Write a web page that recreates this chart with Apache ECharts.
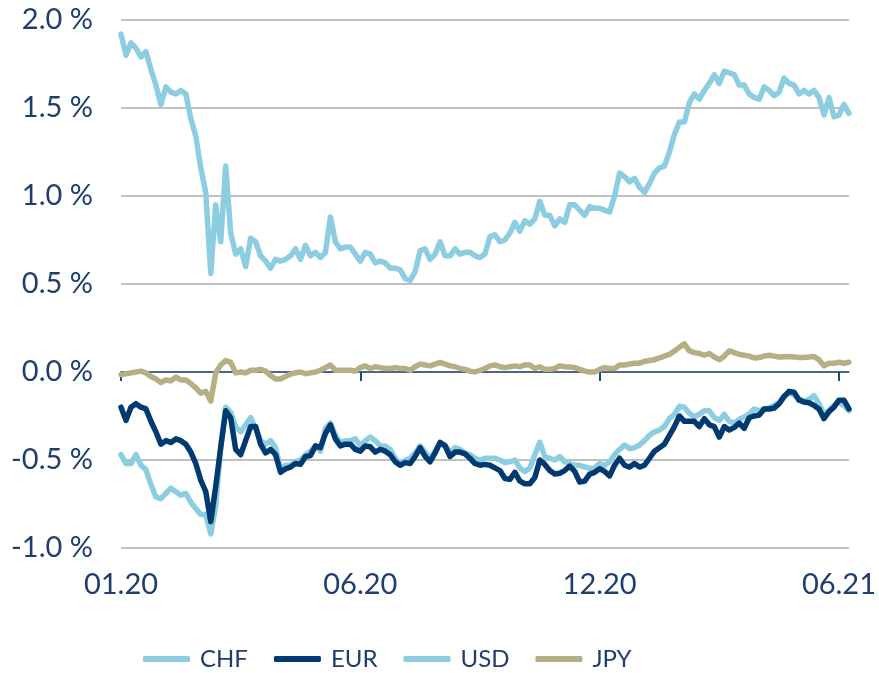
<!DOCTYPE html>
<html>
<head>
<meta charset="utf-8">
<script src="https://cdn.jsdelivr.net/npm/echarts@6/dist/echarts.min.js"></script>
<style>
html,body{margin:0;padding:0;background:#fff;}
#chart{width:879px;height:673px;}
</style>
</head>
<body>
<div id="chart"></div>
<script>
// Tick labels shown on the x axis (every 48th sample)
const tickLabels = ['01.20', '06.20', '12.20', '06.21'];
const tickStep = 48;

// Series values (yield in %), sampled evenly from 01.2020 to mid 06.2021
const CHF = [
 -0.47,-0.52,-0.52,-0.47,-0.53,-0.555,-0.64,-0.71,-0.72,-0.69,
 -0.66,-0.68,-0.70,-0.69,-0.74,-0.775,-0.81,-0.81,-0.92,-0.76,
 -0.42,-0.20,-0.23,-0.31,-0.34,-0.30,-0.26,-0.32,-0.39,-0.41,
 -0.39,-0.43,-0.55,-0.53,-0.53,-0.51,-0.50,-0.47,-0.45,-0.42,
 -0.45,-0.32,-0.29,-0.36,-0.40,-0.39,-0.39,-0.38,-0.42,-0.39,
 -0.37,-0.39,-0.42,-0.42,-0.44,-0.49,-0.525,-0.50,-0.49,-0.46,
 -0.42,-0.455,-0.49,-0.45,-0.40,-0.415,-0.455,-0.43,-0.44,-0.46,
 -0.47,-0.49,-0.50,-0.49,-0.49,-0.49,-0.50,-0.515,-0.51,-0.50,
 -0.545,-0.565,-0.545,-0.47,-0.40,-0.48,-0.49,-0.50,-0.48,-0.51,
 -0.52,-0.53,-0.53,-0.54,-0.547,-0.545,-0.52,-0.53,-0.51,-0.47,
 -0.44,-0.415,-0.435,-0.43,-0.415,-0.39,-0.36,-0.34,-0.33,-0.31,
 -0.265,-0.24,-0.195,-0.20,-0.235,-0.255,-0.24,-0.22,-0.22,-0.26,
 -0.275,-0.24,-0.28,-0.29,-0.27,-0.255,-0.24,-0.21,-0.22,-0.21,
 -0.205,-0.19,-0.175,-0.135,-0.12,-0.13,-0.15,-0.17,-0.155,-0.135,
 -0.18,-0.24,-0.22,-0.19,-0.17,-0.19,-0.22
];
const EUR = [
 -0.20,-0.275,-0.20,-0.18,-0.20,-0.21,-0.28,-0.34,-0.41,-0.39,
 -0.40,-0.38,-0.39,-0.41,-0.455,-0.52,-0.615,-0.68,-0.85,-0.65,
 -0.43,-0.22,-0.26,-0.44,-0.47,-0.39,-0.31,-0.31,-0.41,-0.46,
 -0.44,-0.47,-0.57,-0.55,-0.54,-0.52,-0.525,-0.48,-0.475,-0.42,
 -0.43,-0.35,-0.30,-0.38,-0.42,-0.41,-0.41,-0.44,-0.45,-0.42,
 -0.425,-0.455,-0.44,-0.45,-0.47,-0.51,-0.53,-0.515,-0.52,-0.48,
 -0.43,-0.48,-0.51,-0.46,-0.40,-0.42,-0.48,-0.455,-0.455,-0.465,
 -0.49,-0.52,-0.53,-0.525,-0.53,-0.545,-0.56,-0.605,-0.61,-0.57,
 -0.62,-0.635,-0.635,-0.60,-0.50,-0.525,-0.56,-0.58,-0.575,-0.56,
 -0.535,-0.565,-0.625,-0.62,-0.58,-0.57,-0.55,-0.565,-0.59,-0.53,
 -0.49,-0.53,-0.54,-0.52,-0.54,-0.53,-0.49,-0.45,-0.43,-0.41,
 -0.36,-0.31,-0.25,-0.28,-0.28,-0.28,-0.31,-0.265,-0.30,-0.31,
 -0.37,-0.31,-0.33,-0.315,-0.29,-0.32,-0.26,-0.25,-0.245,-0.21,
 -0.21,-0.205,-0.18,-0.14,-0.11,-0.115,-0.16,-0.17,-0.175,-0.19,
 -0.21,-0.265,-0.225,-0.20,-0.16,-0.16,-0.21
];
const USD = [
 1.92,1.80,1.87,1.84,1.79,1.82,1.72,1.63,1.52,1.62,
 1.59,1.58,1.60,1.58,1.44,1.34,1.16,1.02,0.56,0.95,
 0.74,1.17,0.79,0.67,0.70,0.60,0.76,0.74,0.66,0.63,
 0.59,0.64,0.63,0.64,0.66,0.70,0.64,0.72,0.66,0.68,
 0.65,0.68,0.88,0.74,0.70,0.71,0.71,0.67,0.63,0.68,
 0.67,0.62,0.63,0.62,0.59,0.59,0.58,0.53,0.52,0.57,
 0.69,0.70,0.64,0.67,0.74,0.66,0.66,0.70,0.67,0.68,
 0.68,0.66,0.65,0.67,0.77,0.78,0.74,0.75,0.79,0.85,
 0.80,0.86,0.84,0.87,0.97,0.89,0.89,0.83,0.87,0.85,
 0.95,0.95,0.92,0.89,0.94,0.93,0.93,0.92,0.91,1.00,
 1.13,1.11,1.08,1.10,1.05,1.02,1.07,1.13,1.16,1.17,
 1.25,1.35,1.42,1.42,1.53,1.58,1.55,1.60,1.64,1.69,
 1.64,1.71,1.70,1.69,1.63,1.63,1.58,1.56,1.55,1.62,
 1.60,1.57,1.59,1.67,1.64,1.63,1.58,1.60,1.58,1.60,
 1.56,1.46,1.56,1.45,1.46,1.52,1.47
];
const JPY = [
 -0.015,-0.01,-0.005,0.0,0.005,-0.005,-0.025,-0.04,-0.06,-0.045,
 -0.05,-0.03,-0.045,-0.045,-0.065,-0.09,-0.12,-0.11,-0.165,-0.005,
 0.04,0.065,0.055,-0.005,0.0,-0.005,0.01,0.01,0.015,0.005,
 -0.02,-0.04,-0.04,-0.025,-0.012,-0.005,0.0,-0.01,-0.005,0.0,
 0.01,0.025,0.04,0.01,0.01,0.01,0.01,0.005,0.025,0.035,
 0.02,0.03,0.025,0.02,0.02,0.025,0.02,0.02,0.01,0.03,
 0.045,0.04,0.035,0.045,0.055,0.045,0.035,0.03,0.02,0.015,
 0.005,0.0,0.01,0.02,0.035,0.04,0.03,0.025,0.03,0.035,
 0.03,0.04,0.04,0.02,0.03,0.015,0.015,0.02,0.035,0.03,
 0.028,0.025,0.015,0.005,0.0,0.0,0.015,0.025,0.02,0.02,
 0.04,0.04,0.045,0.05,0.05,0.06,0.065,0.07,0.08,0.09,
 0.10,0.12,0.14,0.16,0.12,0.11,0.105,0.095,0.105,0.085,
 0.07,0.09,0.12,0.11,0.10,0.095,0.09,0.08,0.082,0.09,
 0.095,0.09,0.085,0.087,0.088,0.085,0.082,0.083,0.085,0.088,
 0.07,0.035,0.05,0.05,0.055,0.05,0.055
];

const categories = CHF.map((_, i) => (i % tickStep === 0 ? tickLabels[i / tickStep] : ''));

const TEXT = '#1f3d6d';
const FONT = 'Lato, "Open Sans", sans-serif';
const C_LIGHT = '#8dcde1';
const C_NAVY = '#003a70';
const C_KHAKI = '#b5af83';

function line(name, data, color) {
  return {
    name, type: 'line', data,
    xAxisIndex: 0, yAxisIndex: 0,
    showSymbol: false, symbol: 'none', smooth: false,
    lineStyle: { color, width: 5.5, cap: 'round', join: 'round' },
    itemStyle: { color },
    emphasis: { disabled: true },
    animation: false
  };
}

const chart = echarts.init(document.getElementById('chart'), null, { renderer: 'canvas' });
chart.setOption({
  backgroundColor: '#ffffff',
  animation: false,
  textStyle: { fontFamily: FONT },
  grid: { left: 121, right: 28, top: 20, bottom: 125, containLabel: false },
  legend: {
    top: 647, left: 143, padding: 0,
    icon: 'roundRect', itemWidth: 47, itemHeight: 6, itemGap: 26,
    textStyle: { color: TEXT, fontSize: 24, fontFamily: FONT, padding: [0, 0, 0, 5] },
    data: ['CHF', 'EUR', 'USD', 'JPY']
  },
  xAxis: [
    {
      type: 'category', data: categories, boundaryGap: false, position: 'bottom',
      axisLine: { show: false, onZero: false },
      axisTick: { show: false },
      splitLine: { show: false },
      axisLabel: {
        interval: tickStep - 1, color: TEXT, fontSize: 29, fontFamily: FONT, margin: 22,
        formatter: (v) => v
      }
    },
    {
      type: 'category', data: categories, boundaryGap: false, position: 'top',
      axisLine: { show: true, onZero: true, lineStyle: { color: '#1f4a7e', width: 1.5 } },
      axisTick: { show: true, inside: true, interval: tickStep - 1, length: 9, lineStyle: { color: '#1f4a7e', width: 2 } },
      axisLabel: { show: false },
      splitLine: { show: false }
    }
  ],
  yAxis: {
    type: 'value', min: -1.0, max: 2.0, interval: 0.5,
    axisLine: { show: false }, axisTick: { show: false },
    splitLine: { show: true, lineStyle: { color: '#c0c0c0', width: 2 } },
    axisLabel: {
      color: TEXT, fontSize: 29, fontFamily: FONT, margin: 28,
      formatter: (v) => v.toFixed(1) + ' %'
    }
  },
  series: [
    line('CHF', CHF, C_LIGHT),
    line('EUR', EUR, C_NAVY),
    line('USD', USD, C_LIGHT),
    line('JPY', JPY, C_KHAKI)
  ]
});
</script>
</body>
</html>
